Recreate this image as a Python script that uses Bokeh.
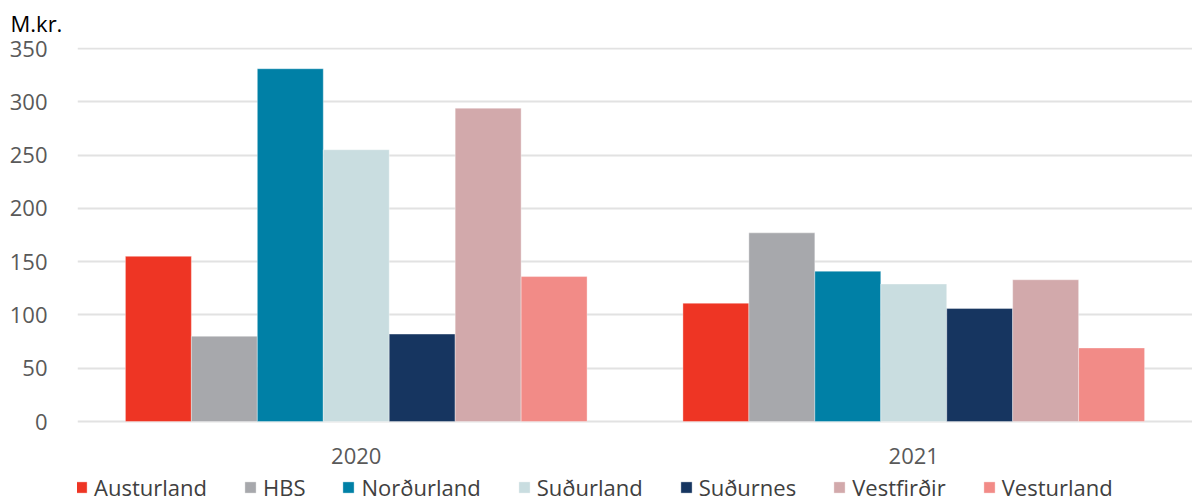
from bokeh.plotting import figure
from bokeh.models import Range1d, FactorRange, FixedTicker, Legend, LegendItem, ColumnDataSource
from bokeh.transform import dodge
from bokeh.core.properties import value
from bokeh.embed import file_html
from bokeh.resources import INLINE

years = ["2020", "2021"]
regions = ["Austurland", "HBS", "Norðurland", "Suðurland", "Suðurnes", "Vestfirðir", "Vesturland"]
austurland = [155, 111]
hbs = [80, 177]
nordurland = [331, 141]
sudurland = [255, 129]
sudurnes = [82, 106]
vestfirdir = [294, 133]
vesturland = [136, 69]
series = [austurland, hbs, nordurland, sudurland, sudurnes, vestfirdir, vesturland]
colors = ["#EE3524", "#A7A8AC", "#0080A6", "#C9DDE0", "#163560", "#D2A9AB", "#F28B87"]
y_ticks = [0, 50, 100, 150, 200, 250, 300, 350]

FONT = "Open Sans"
W, H = 1192, 502
TOP = 47          # frame top (px)
ZERO_PX = 421     # pixel row of value 0
TOPVAL_PX = 48    # pixel row of value 350
ppu = (ZERO_PX - TOPVAL_PX) / 350.0
y_start = -(H - ZERO_PX) / ppu
y_end = 350 + (TOPVAL_PX - TOP) / ppu

p = figure(width=W, height=H, x_range=FactorRange(*years), y_range=Range1d(y_start, y_end),
           output_backend="svg", toolbar_location=None, title="M.kr.",
           min_border_left=77, min_border_right=0, min_border_top=TOP, min_border_bottom=0)
p.outline_line_color = None
p.background_fill_color = "white"
p.border_fill_color = "white"

p.title.text_font = FONT
p.title.text_font_size = "22px"
p.title.text_font_style = "normal"
p.title.text_color = "#000000"
p.title.align = "left"
p.title.vertical_align = "top"
p.title.offset = -67
p.title.standoff = 15

bw = 0.1183
src = ColumnDataSource(dict(year=years, **{f"s{i}": s for i, s in enumerate(series)}))
items = []
for i, (name, col) in enumerate(zip(regions, colors)):
    r = p.vbar(x=dodge("year", (i - 3) * bw, range=p.x_range), top=f"s{i}", bottom=0, width=bw,
               source=src, fill_color=col, line_color="white", line_width=0.6, line_alpha=0.6)
    items.append(LegendItem(label=name, renderers=[r]))

# category labels under the bars
p.text(x=years, y=[0, 0], text=years, y_offset=34, text_align="center", text_baseline="middle",
       text_font=value(FONT), text_font_size="22px", text_color="#595959")

p.ygrid.ticker = FixedTicker(ticks=y_ticks)
p.ygrid.grid_line_color = "#E2E2E2"
p.ygrid.grid_line_width = 2
p.xgrid.grid_line_color = None

p.yaxis.ticker = FixedTicker(ticks=y_ticks)
p.yaxis.axis_line_color = None
p.yaxis.major_tick_line_color = None
p.yaxis.minor_tick_line_color = None
p.yaxis.major_label_standoff = 24
p.yaxis.major_label_text_font = FONT
p.yaxis.major_label_text_font_size = "22px"
p.yaxis.major_label_text_color = "#595959"
p.xaxis.visible = False

legend = Legend(items=items, orientation="horizontal", location=(-3, 0),
                label_text_font=FONT, label_text_font_size="22px", label_text_color="#404040",
                glyph_width=14, glyph_height=14, label_standoff=6, spacing=36,
                padding=0, margin=0, border_line_color=None, background_fill_alpha=0,
                label_height=22)
p.add_layout(legend, "center")

open("out.html", "w").write(file_html(p, INLINE))
